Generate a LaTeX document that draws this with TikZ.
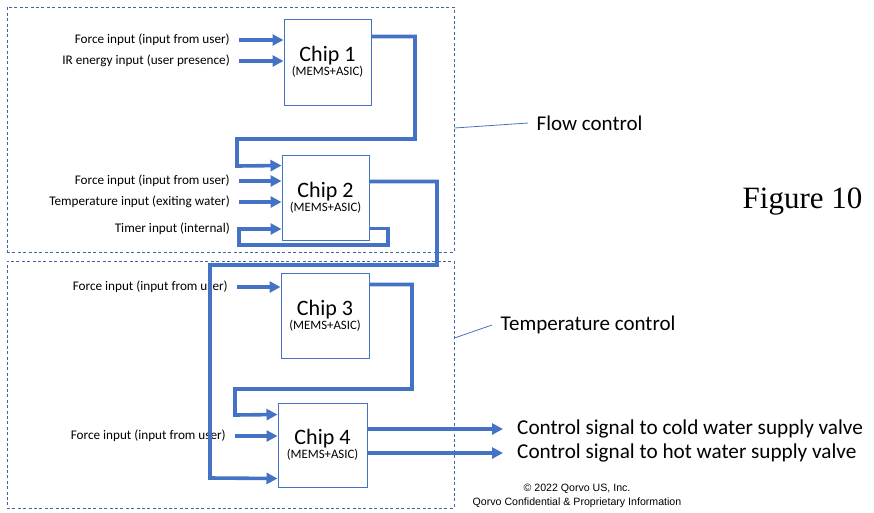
\documentclass[tikz,border=0pt]{standalone}
\usepackage{fontspec}
\setmainfont{Carlito}
\newfontfamily\figfont{Liberation Serif}
\newfontfamily\notefont{Liberation Sans}
\usetikzlibrary{arrows.meta}
\definecolor{officeblue}{HTML}{4472C4}
\definecolor{frameblue}{HTML}{3F63A8}
\newcommand{\chiptext}[1]{{\fontsize{22}{20}\selectfont Chip #1}\\{\fontsize{12.8}{20}\selectfont (MEMS+ASIC)}}

\begin{document}
\begin{tikzpicture}[x=1pt,y=-1pt,
    chip/.style={draw=officeblue,line width=1pt,align=center,inner sep=0pt,fill=white},
    group/.style={draw=frameblue,line width=0.9pt,dash pattern=on 3pt off 2.4pt,minimum width=447pt,inner sep=0pt},
    inlabel/.style={anchor=east,inner xsep=9pt,inner ysep=1pt,font=\fontsize{13.2}{15}\selectfont},
    outlabel/.style={anchor=west,inner xsep=14pt,inner ysep=1pt,font=\fontsize{21.2}{24}\selectfont},
    grouplabel/.style={anchor=west,inner xsep=8.5pt,font=\fontsize{21}{24}\selectfont},
    flow/.style={officeblue,line width=3.6pt,-{Triangle[length=11pt,width=11pt]}},
    leader/.style={officeblue,line width=0.8pt}]
    \useasboundingbox (0,0) rectangle (874,512);

    \node[group,minimum height=245pt] (flowbox) at (230.5,129.5) {};
    \node[group,minimum height=247pt] (tempbox) at (230.5,384.5) {};

    \node[chip,minimum width=87pt,minimum height=86pt] (c1) at (327.5,62) {\chiptext{1}};
    \node[chip,minimum width=87pt,minimum height=85pt] (c2) at (325.5,197.5) {\chiptext{2}};
    \node[chip,minimum width=88pt,minimum height=85pt] (c3) at (325,315.5) {\chiptext{3}};
    \node[chip,minimum width=89pt,minimum height=84pt] (c4) at (322.5,445) {\chiptext{4}};

    \node[inlabel] (force1) at (239,40) {Force input (input from user)};
    \node[inlabel] (ir1) at (239,61) {IR energy input (user presence)};
    \node[inlabel] (force2) at (239,181) {Force input (input from user)};
    \node[inlabel] (temp2) at (239,202) {Temperature input (exiting water)};
    \node[inlabel] (timer2) at (239,229) {Timer input (internal)};
    \node[inlabel] (force3) at (237,287) {Force input (input from user)};
    \node[inlabel] (force4) at (235,436) {Force input (input from user)};

    \node[outlabel] (cold) at (503,429) {Control signal to cold water supply valve};
    \node[outlabel] (hot) at (503,453) {Control signal to hot water supply valve};

    \node[grouplabel] (flowlbl) at (528,123) {Flow control};
    \node[grouplabel] (templbl) at (492,325) {Temperature control};
    \node[font=\figfont\fontsize{31}{34}\selectfont] (fig) at (802.5,202) {Figure 10};
    \node[font=\notefont\fontsize{10.6}{14}\selectfont,align=center] (note) at (577,496) {© 2022 Qorvo US, Inc.\\Qorvo Confidential \& Proprietary Information};

    \draw[leader] ([yshift=1.5pt]flowbox.east) -- (flowlbl.west);
    \draw[leader] ([yshift=46.5pt]tempbox.east) -- (templbl.west);

    \draw[flow] (force1.east) -- (force1.east -| c1.west);
    \draw[flow] (ir1.east) -- (ir1.east -| c1.west);
    \draw[flow] (force2.east) -- (force2.east -| c2.west);
    \draw[flow] (temp2.east) -- (temp2.east -| c2.west);
    \draw[flow] (force3.east) -- (force3.east -| c3.west);
    \draw[flow] (force4.east) -- (force4.east -| c4.west);

    \draw[flow] ([yshift=-18pt]c1.north east) -| (415,139) -| (237,166) -- ([yshift=-11pt]c2.north west);
    \draw[flow] ([yshift=12pt]c2.south east) -| (388,245) -| (timer2.east) -- (timer2.east -| c2.west);
    \draw[flow] ([yshift=-27pt]c2.north east) -| (437,265) -| (210,478) -- ([yshift=9pt]c4.south west);
    \draw[flow] ([yshift=-12pt]c3.north east) -| (412,389) -| (235,415) -- ([yshift=-12pt]c4.north west);

    \draw[flow] (cold.west -| c4.east) -- (cold.west);
    \draw[flow] (hot.west -| c4.east) -- (hot.west);
\end{tikzpicture}
\end{document}
